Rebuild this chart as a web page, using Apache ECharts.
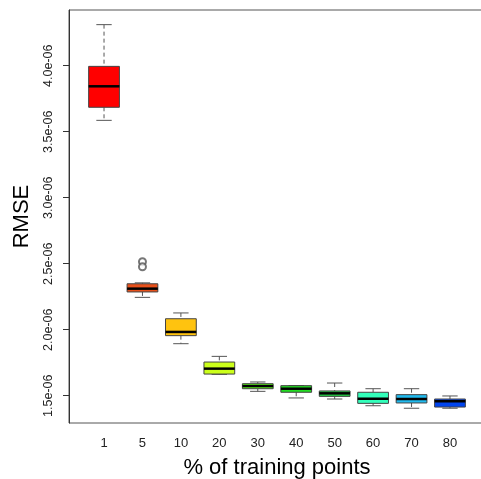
<!DOCTYPE html>
<html>
<head>
<meta charset="utf-8">
<script src="https://cdn.jsdelivr.net/npm/echarts@6/dist/echarts.min.js"></script>
<style>
  body { margin: 0; background: #ffffff; }
  #rmseChart { width: 481px; height: 479px; }
</style>
</head>
<body>
<div id="rmseChart"></div>
<script>
  // % of training points
  var categories = ['1', '5', '10', '20', '30', '40', '50', '60', '70', '80'];
  // box statistics, RMSE
  var mins    = [3.586e-6, 2.245e-6, 1.894e-6, 1.662e-6, 1.533e-6, 1.483e-6, 1.475e-6, 1.424e-6, 1.405e-6, 1.405e-6];
  var q1s     = [3.685e-6, 2.286e-6, 1.955e-6, 1.664e-6, 1.553e-6, 1.526e-6, 1.495e-6, 1.442e-6, 1.445e-6, 1.414e-6];
  var medians = [3.844e-6, 2.311e-6, 1.983e-6, 1.705e-6, 1.573e-6, 1.553e-6, 1.518e-6, 1.477e-6, 1.475e-6, 1.458e-6];
  var q3s     = [3.995e-6, 2.348e-6, 2.083e-6, 1.755e-6, 1.591e-6, 1.576e-6, 1.536e-6, 1.526e-6, 1.508e-6, 1.475e-6];
  var maxs    = [4.311e-6, 2.355e-6, 2.127e-6, 1.798e-6, 1.604e-6, 1.577e-6, 1.596e-6, 1.553e-6, 1.553e-6, 1.498e-6];
  // outliers
  var outlierCats = ['5', '5'];
  var outlierVals = [2.515e-6, 2.477e-6];
  // y ticks
  var yTicks = [1.5e-6, 2.0e-6, 2.5e-6, 3.0e-6, 3.5e-6, 4.0e-6];
  var yMin = 1.2932e-6;
  var yMax = 4.422e-6;

  var boxColors = ['#ff0000', '#e8501a', '#ffc30f', '#ccff1a', '#5cff1a',
                   '#22dd22', '#22cc44', '#33ffbb', '#22bbee', '#0044ee'];

  var boxData = categories.map(function (c, i) {
    return [i, mins[i], q1s[i], medians[i], q3s[i], maxs[i]];
  });
  var outlierData = outlierCats.map(function (c, i) {
    return [categories.indexOf(c), outlierVals[i]];
  });

  function renderBox(params, api) {
    var i = api.value(0);
    var bw = api.size([1, 0])[0] * 0.8;
    var lo = api.coord([i, api.value(1)]);
    var q1 = api.coord([i, api.value(2)]);
    var md = api.coord([i, api.value(3)]);
    var q3 = api.coord([i, api.value(4)]);
    var hi = api.coord([i, api.value(5)]);
    var x = md[0];
    var whisker = {stroke: '#555', lineWidth: 1, lineDash: [4, 3]};
    var staple = {stroke: '#555', lineWidth: 1};
    return {
      type: 'group',
      children: [
        {type: 'line', shape: {x1: x, y1: hi[1], x2: x, y2: q3[1]}, style: whisker},
        {type: 'line', shape: {x1: x, y1: q1[1], x2: x, y2: lo[1]}, style: whisker},
        {type: 'line', shape: {x1: x - bw / 4, y1: hi[1], x2: x + bw / 4, y2: hi[1]}, style: staple},
        {type: 'line', shape: {x1: x - bw / 4, y1: lo[1], x2: x + bw / 4, y2: lo[1]}, style: staple},
        {type: 'rect', shape: {x: x - bw / 2, y: q3[1], width: bw, height: q1[1] - q3[1]},
          style: {fill: boxColors[params.dataIndex], stroke: '#444', lineWidth: 1}},
        {type: 'line', shape: {x1: x - bw / 2, y1: md[1], x2: x + bw / 2, y2: md[1]},
          style: {stroke: '#000', lineWidth: 2.5}}
      ]
    };
  }

  var chart = echarts.init(document.getElementById('rmseChart'));
  chart.setOption({
    animation: false,
    textStyle: {fontFamily: 'Liberation Sans'},
    grid: [
      // frame (runs past the right edge like the original)
      {left: 69, right: -4, top: 10, bottom: 56, show: true, borderColor: '#555', borderWidth: 1,
        backgroundColor: 'transparent', outerBoundsMode: 'none'},
      // plotting area
      {left: 84.8, right: 11.8, top: 10, bottom: 56, outerBoundsMode: 'none'}
    ],
    xAxis: [
      {
        gridIndex: 0, type: 'value', min: 0, max: 1,
        axisLine: {show: false}, axisTick: {show: false}, axisLabel: {show: false}, splitLine: {show: false},
        name: '% of training points', nameLocation: 'middle', nameGap: 34,
        nameTextStyle: {fontSize: 22, color: '#000'}
      },
      {
        gridIndex: 1, type: 'category', data: categories,
        axisLine: {show: false},
        axisTick: {alignWithLabel: true, length: 7, lineStyle: {color: '#333'}},
        axisLabel: {fontSize: 13, color: '#222', margin: 14},
        splitLine: {show: false}
      }
    ],
    yAxis: [
      {
        gridIndex: 0, type: 'value', min: yMin, max: yMax,
        axisLine: {show: true, lineStyle: {color: '#333'}},
        axisTick: {show: true, length: 6, customValues: yTicks, lineStyle: {color: '#333'}},
        axisLabel: {
          rotate: 90, fontSize: 12.5, color: '#222', margin: 14, customValues: yTicks,
          formatter: function (v) { return (v * 1e6).toFixed(1) + 'e-06'; }
        },
        splitLine: {show: false},
        name: 'RMSE', nameLocation: 'middle', nameGap: 36,
        nameTextStyle: {fontSize: 22, color: '#000'}
      },
      {gridIndex: 1, type: 'value', min: yMin, max: yMax, show: false}
    ],
    series: [
      {
        name: 'RMSE',
        type: 'custom',
        xAxisIndex: 1,
        yAxisIndex: 1,
        renderItem: renderBox,
        encode: {x: 0, y: [1, 2, 3, 4, 5]},
        data: boxData
      },
      {
        name: 'outliers',
        type: 'scatter',
        xAxisIndex: 1,
        yAxisIndex: 1,
        symbol: 'emptyCircle',
        symbolSize: 7,
        itemStyle: {color: '#555', borderWidth: 1},
        data: outlierData
      }
    ]
  });
</script>
</body>
</html>
